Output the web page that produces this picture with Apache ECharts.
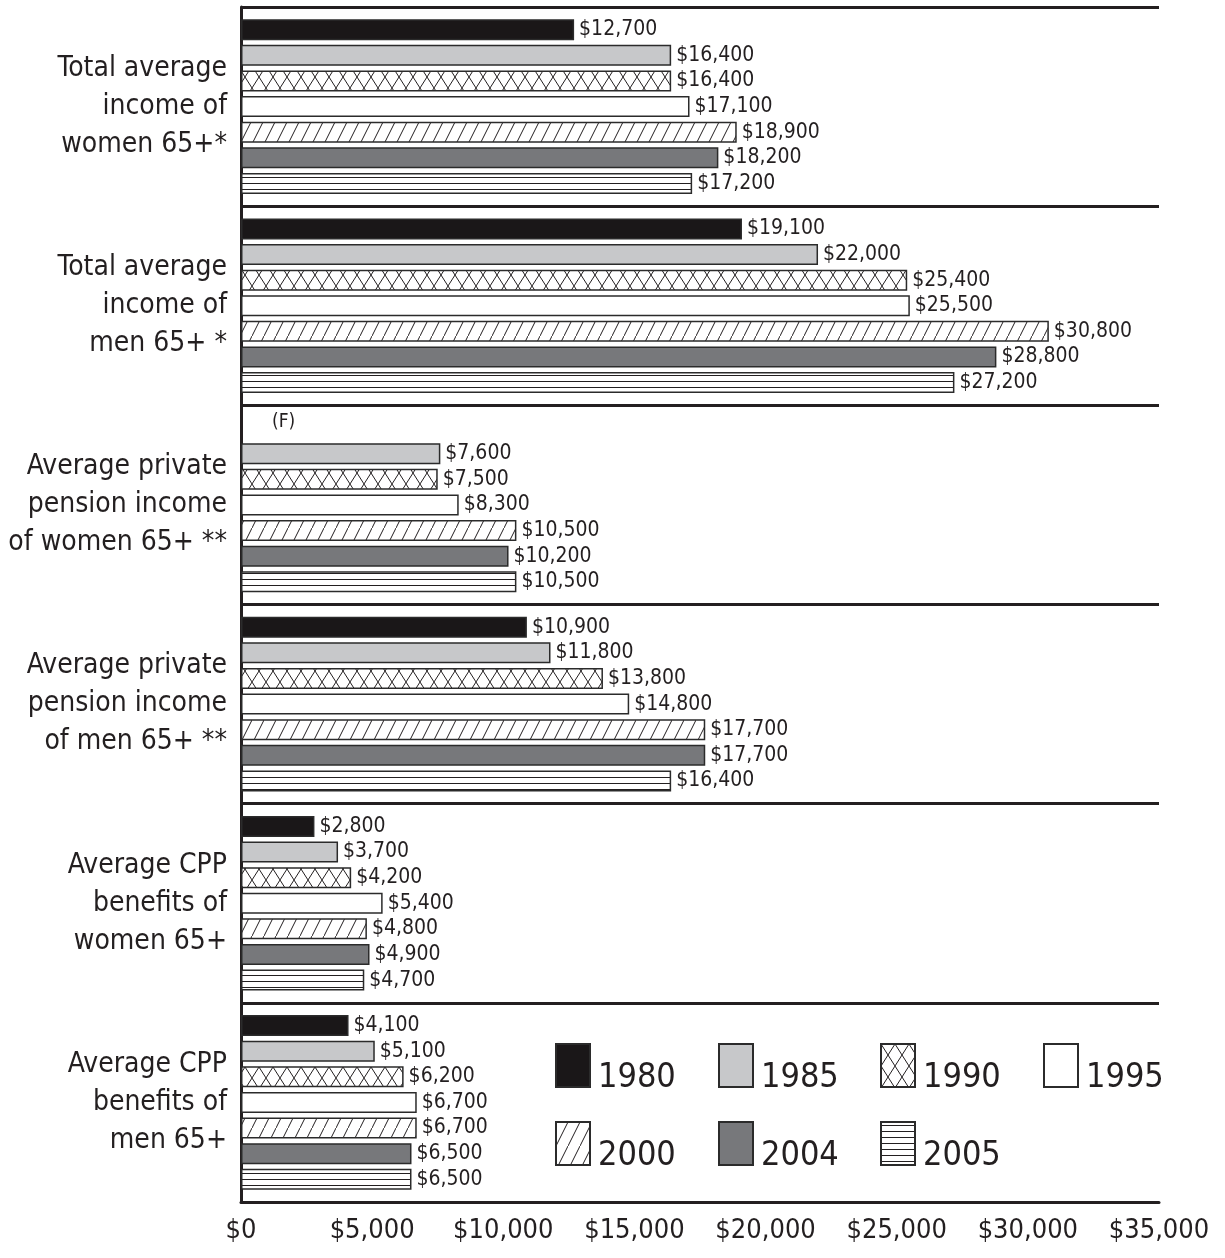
<!DOCTYPE html>
<html>
<head>
<meta charset="utf-8">
<script src="https://cdn.jsdelivr.net/npm/echarts@6/dist/echarts.min.js"></script>
<style>
html,body{margin:0;padding:0;background:#fff;}
#chart{width:1225px;height:1258px;}
</style>
</head>
<body>
<div id="chart"></div>
<script>
// ---- data ----
const categories = [
  'Total average\nincome of\nwomen 65+*',
  'Total average\nincome of\nmen 65+ *',
  'Average private\npension income\nof women 65+ **',
  'Average private\npension income\nof men 65+ **',
  'Average CPP\nbenefits of\nwomen 65+',
  'Average CPP\nbenefits of\nmen 65+'
];
const years = ['1980', '1985', '1990', '1995', '2000', '2004', '2005'];
const v1980 = [12700, 19100, null, 10900, 2800, 4100];
const v1985 = [16400, 22000, 7600, 11800, 3700, 5100];
const v1990 = [16400, 25400, 7500, 13800, 4200, 6200];
const v1995 = [17100, 25500, 8300, 14800, 5400, 6700];
const v2000 = [18900, 30800, 10500, 17700, 4800, 6700];
const v2004 = [18200, 28800, 10200, 17700, 4900, 6500];
const v2005 = [17200, 27200, 10500, 16400, 4700, 6500];
const xMin = 0, xMax = 35000, xStep = 5000;
const missingLabel = '(F)';

// ---- styling ----
const FONT = '"DejaVu Sans Condensed", "Open Sans", sans-serif';
const INK = '#231f20';

function tile(w, h, draw) {
  const c = document.createElement('canvas');
  c.width = w; c.height = h;
  const g = c.getContext('2d');
  g.fillStyle = '#fff';
  g.fillRect(0, 0, w, h);
  g.strokeStyle = INK;
  g.lineWidth = 1;
  draw(g, w, h);
  return { image: c, repeat: 'repeat' };
}
const crossFill = tile(14, 22, (g, w, h) => {
  g.beginPath();
  g.moveTo(0, 0); g.lineTo(w, h);
  g.moveTo(w, 0); g.lineTo(0, h);
  g.stroke();
});
const diagFill = tile(12, 24, (g, w, h) => {
  g.beginPath();
  g.moveTo(-1, h + 2); g.lineTo(w + 1, -2);
  g.stroke();
});
const stripeFill = tile(4, 6, (g, w, h) => {
  g.beginPath();
  g.moveTo(0, 3.5); g.lineTo(w, 3.5);
  g.stroke();
});

const fills = ['#1a1718', '#c7c8ca', crossFill, '#ffffff', diagFill, '#77787b', stripeFill];
const seriesValues = [v1980, v1985, v1990, v1995, v2000, v2004, v2005];

function money(v) {
  return '$' + Number(v).toLocaleString('en-US');
}

const series = years.map((y, i) => ({
  name: y,
  type: 'bar',
  barWidth: 21,
  barGap: '22%',
  itemStyle: { color: fills[i], borderColor: '#2b2b2b', borderWidth: 1.5 },
  label: {
    show: true,
    position: 'right',
    distance: 5,
    fontFamily: FONT,
    fontSize: 21,
    color: INK,
    formatter: p => money(p.value)
  },
  data: seriesValues[i].map(v => v === null
    ? { value: 0, itemStyle: { borderWidth: 0 }, label: { formatter: missingLabel, fontSize: 19, offset: [26, -6] } }
    : v)
}));

const legendPos = [
  [555, 1043], [718, 1043], [880, 1043], [1043, 1043],
  [555, 1121], [718, 1121], [880, 1121]
];
const legends = years.map((y, i) => ({
  data: [y],
  left: legendPos[i][0],
  top: legendPos[i][1],
  padding: 0,
  itemWidth: 34,
  itemHeight: 43,
  icon: 'rect',
  selectedMode: false,
  formatter: '{t|{name}}',
  textStyle: {
    fontFamily: FONT, fontSize: 34, color: INK,
    rich: { t: { fontFamily: FONT, fontSize: 34, color: INK, padding: [26, 0, 0, 3] } }
  }
}));

const chart = echarts.init(document.getElementById('chart'), null, { renderer: 'canvas' });
chart.setOption({
  animation: false,
  backgroundColor: '#fff',
  grid: { left: 241, right: 66, top: 7, bottom: 56, containLabel: false, outerBoundsMode: 'none' },
  legend: legends,
  xAxis: {
    type: 'value',
    min: xMin, max: xMax, interval: xStep,
    axisLine: { show: true, lineStyle: { color: INK, width: 3 } },
    axisTick: { show: false },
    splitLine: { show: false },
    axisLabel: {
      margin: 15,
      fontFamily: FONT, fontSize: 27, color: INK,
      formatter: v => money(v)
    }
  },
  yAxis: {
    type: 'category',
    inverse: true,
    data: categories,
    axisLine: { show: true, lineStyle: { color: INK, width: 3 } },
    axisTick: { show: false },
    splitLine: { show: true, interval: 0, lineStyle: { color: INK, width: 3 } },
    axisLabel: {
      interval: 0,
      margin: 14,
      fontFamily: FONT, fontSize: 28, color: INK,
      lineHeight: 38, align: 'right'
    }
  },
  series: series
});
</script>
</body>
</html>
